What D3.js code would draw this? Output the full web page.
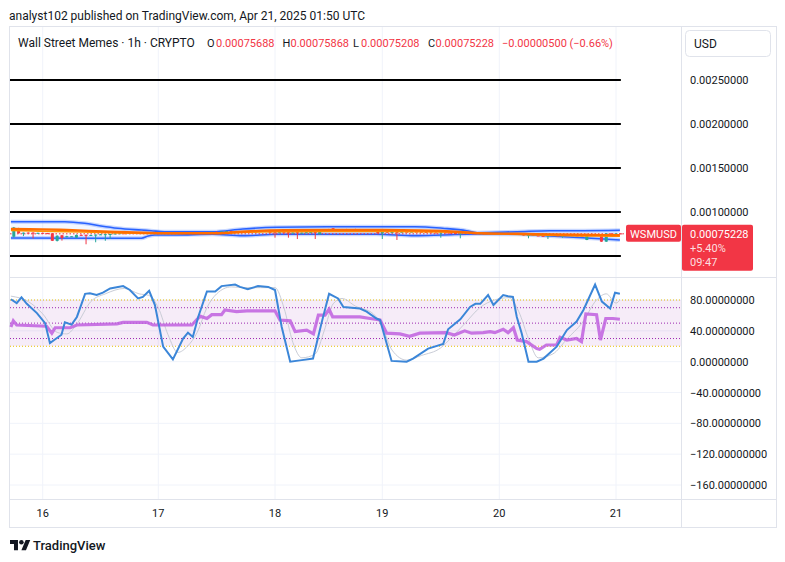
<!DOCTYPE html>
<html><head><meta charset="utf-8">
<script src="https://cdn.jsdelivr.net/npm/d3@7"></script>
<style>body{margin:0;background:#fff;} svg{display:block;font-family:Roboto,"Noto Sans",sans-serif;}</style>
</head><body><svg id="c" width="785" height="562"></svg>
<script>
// ---------------- DATA ----------------
const titleText = "analyst102 published on TradingView.com, Apr 21, 2025 01:50 UTC";
const symbolText = "Wall Street Memes · 1h · CRYPTO";
const ohlcLabels = ["O","H","L","C"];
const ohlcValues = ["0.00075688","0.00075868","0.00075208","0.00075228"];
const changeText = "−0.00000500 (−0.66%)";
const currency = "USD";
const tickerName = "WSMUSD";
const lastPriceLines = ["0.00075228","+5.40%","09:47"];
const lastPrice = 75228; // units of 1e-8

const dayTicks = [0,24,48,72,96,120];          // hours since Apr 16 00:00
const dayLabels = ["16","17","18","19","20","21"];
const priceTicks = [0.0010,0.0015,0.0020,0.0025]; // 0.0005 label hidden behind last-price box
const priceTickLabels = ["0.00100000","0.00150000","0.00200000","0.00250000"];
const levelLines = [0.0005,0.0010,0.0015,0.0020,0.0025];
const oscTicks = [80,40,0,-40,-80,-120,-160];
const oscTickLabels = ["80.00000000","40.00000000","0.00000000","−40.00000000","−80.00000000","−120.00000000","−160.00000000"];
const bandEdges = [20,80];
const bandInner = [30,50,70];

// candles: [hour, open, high, low, close] (prices in 1e-8)
const candles = [
[-6,71900,83000,71000,82400],[-5,81500,82000,75500,75800],[-4,75800,76700,72600,76500],[-3,76600,76800,76000,76200],
[-2,76600,77000,70000,76100],[-1,76100,76500,75800,76300],[0,76300,76600,75900,76000],[1,76000,76200,75400,75600],
[2,75800,76000,67000,67300],[3,67200,73600,66500,73000],[4,73600,74000,67500,70500],[5,71400,73000,71200,72500],
[6,72200,72600,71800,72400],[7,70800,74500,70500,73900],[8,74000,74400,73400,73800],[9,74000,74500,63300,73200],
[10,73500,74200,73000,73900],[11,73500,74500,65600,74300],[12,74300,74900,74000,74600],[13,74000,75000,67300,74800],
[14,74200,75200,69300,75000],[15,75000,75800,74800,75600],[16,75600,76100,75300,75900],[17,75900,76200,75500,75700],
[18,75700,76300,75400,76100],[19,76100,76400,75700,75800],[20,75800,76300,75600,76200],[21,76200,76500,75800,75900],
[22,75900,76400,75700,76300],[23,76300,76600,75900,76000],[24,76000,76300,75600,75700],[25,75700,76200,75500,76100],
[26,76100,76400,75800,75900],[27,75900,76500,75700,76300],[28,76300,76700,76000,76500],[29,76500,76800,76100,76200],
[30,76200,76700,76000,76600],[31,76600,76900,76200,76400],[32,76400,77000,76200,76800],[33,76800,77200,76500,77000],
[34,77000,77400,76700,76900],[35,76900,77600,76700,77400],[36,77400,77800,77100,77300],[37,77300,78000,77100,77800],
[38,77800,78600,77600,78400],[39,78400,78700,77900,78100],[40,78100,78500,77600,77800],[41,77800,78200,77400,77500],
[42,77500,78000,77200,77900],[43,77900,78300,77500,77600],[44,77600,78100,77300,77800],[45,77800,78400,77600,78200],
[46,78200,79600,77800,79300],[47,79400,79600,76000,76400],[48,77500,78000,70800,76500],[49,76500,77200,76200,77000],
[50,77000,77400,76400,76700],[51,77000,77500,70800,76000],[52,76000,76900,75800,76600],[53,77000,77300,69300,76200],
[54,76200,76800,75900,76500],[55,76500,77300,76200,77000],[56,77000,77400,76600,77200],[57,77200,77600,69300,76500],
[58,74700,80000,74500,79500],[59,79500,80600,79200,80300],[60,80300,80800,79900,80100],[61,81500,81800,78600,78800],
[62,78800,80500,78600,80300],[63,80300,80700,80000,80500],[64,80500,80800,80100,80200],[65,80200,80600,79900,80400],
[66,80400,80900,80100,80300],[67,80300,80700,79900,80100],[68,80100,80500,79600,79800],[69,79800,80100,79200,79400],
[70,79400,79700,78800,79000],[71,79000,79300,75600,75800],[72,75800,79700,69300,79500],[73,79000,79300,76300,76500],
[74,76500,77400,76200,77200],[75,77500,78000,68200,76800],[76,76800,77800,76500,77600],[77,77600,77900,77200,77400],
[78,77400,77800,77100,77700],[79,77700,78000,77300,77500],[80,77500,77800,77100,77300],[81,77300,77600,76800,77000],
[82,77000,77300,76500,76700],[83,76700,77000,76200,76400],[84,76000,77000,70800,76800],[85,76800,77100,76300,76500],
[86,76500,76800,76000,76200],[87,76200,76500,75800,76000],[88,76000,76900,70100,76700],[89,76700,76900,76000,76200],
[90,76200,76500,75700,75900],[91,75900,76200,75500,75700],[92,75700,76100,75400,75900],[93,75900,76200,75500,75600],
[94,75600,76000,75300,75800],[95,75800,76100,75400,75500],[96,75500,75900,75200,75700],[97,75700,76000,75300,75400],
[98,75400,75800,75100,75600],[99,75600,75900,75200,75300],[100,75300,75500,74300,74500],[101,74500,74800,73200,73500],
[102,73000,74800,70100,74500],[103,74500,74700,73000,73300],[104,73300,73600,72700,73000],[105,73000,73200,72200,72500],
[106,72500,74000,69300,73800],[107,73800,74100,73300,73500],[108,73500,73800,73000,73200],[109,73000,74000,70800,73800],
[110,73800,74100,73400,73600],[111,73600,73900,73100,73300],[112,73300,73500,72800,73100],[113,73100,73400,72800,73000],
[114,68200,75200,68000,75000],[115,75000,75400,74500,74800],[116,74800,75000,73600,73900],[117,73900,74200,66000,66300],
[118,66300,76000,66000,75700],[119,75700,76100,75300,75600],[120,75600,75900,75300,75688],[121,75688,75868,75208,75228]
];

// Bollinger-type envelope [hour, price 1e-8]
const bbUpper = [[-6.6,89000],[4.6,89000],[8.7,87200],[12.1,84100],[15.6,81500],[20.5,79500],[22.5,78750],[25.3,77600],
[35.2,77600],[41.4,80700],[48.4,82600],[59.6,83300],[78.7,83300],[84.4,81500],[89.3,78750],[91.4,76500],
[99.6,77600],[106.4,78750],[113.2,78750],[120.8,79200]];
const bbLower = [[-6.6,70500],[20.5,70100],[21.9,72700],[23.3,73900],[27.4,73900],[35.2,74700],[41.4,73100],[48.4,74700],
[70.7,74700],[78.7,73100],[84.4,73900],[91.4,75000],[99.6,74700],[106.4,72700],[113.2,70800],[120.8,68200]];
// moving averages
const ma1 = [[-6.6,80700],[0,80300],[5,79500],[14,77600],[21,76500],[28,75800],[36,75800],[42,77900],[50,79200],[60,79500],
[72,79500],[80,79000],[88,77300],[92,75800],[100,75200],[108,74400],[116,73900],[120.8,73600]];
const ma2 = [[-6.6,79000],[5,77600],[14,76500],[24,75600],[36,76100],[48,77600],[60,77800],[72,77800],[84,77300],[92,75800],
[100,74400],[108,73300],[116,72700],[120.8,72400]];

// oscillator series [hour, value]
const stochK = [[-6.6,81],[-5.4,76],[-4.4,83.5],[-3.3,75],[-1.2,63],[0.5,50],[1.5,24],[2.6,29],[3.9,35],[4.6,51],[6.0,48],
[7.1,58],[8.8,88],[9.8,88.6],[11.2,86.5],[12.5,89.5],[14.0,95],[16.7,98],[18.1,93],[19.8,82],[20.8,84],[22.1,92],
[23.3,73.5],[25.0,19.5],[27.0,3],[29.1,30],[30.1,37.6],[31.1,32],[32.2,58],[34.0,91],[35.7,91],[37.0,98],[39.8,100],
[40.8,97],[42.4,94],[44.5,98],[46.6,97],[48.0,93],[49.5,45],[51.4,0],[54.0,2],[56.5,4],[58.4,50],[60.1,88],[62.1,82],
[63.3,71],[67.0,69],[68.5,65],[70.7,56],[71.5,54],[73.9,1],[77.0,0],[78.3,4],[81.4,17],[84.5,23],[85.5,42],[88.0,55],
[90.0,71],[91.1,75],[92.1,75],[93.7,86.5],[94.8,73.5],[96.8,86.5],[97.8,85],[98.8,84],[99.6,58],[100.6,37],[102.0,0],
[103.7,0],[105.1,4],[107.8,19.5],[109.9,41],[111.9,52],[113.3,67],[115.7,100],[117.1,78],[118.8,69],[119.8,89.5],[120.8,88]];
const stochD = [[-6.6,85],[-3,78],[0,62],[3,38],[5,36],[7,48],[10,78],[13,88],[17,95],[20,88],[22,86],[24,70],[26,35],
[28,12],[30,20],[32,38],[34,70],[36,88],[39,97],[42,96],[45,96],[48,96],[50,70],[52,25],[54,5],[57,10],[59,40],[61,75],
[63,82],[66,72],[70,62],[72,45],[74,15],[77,2],[80,8],[84,18],[86,30],[89,50],[92,70],[95,80],[98,83],[100,65],[102,30],
[104,5],[107,10],[110,30],[113,50],[116,80],[118,88],[120,76],[120.8,80]];
const rsi = [[-6.6,45],[-6.1,53],[-5.4,47.6],[0.8,46],[1.9,37],[2.6,44],[5.7,44],[7.1,47.6],[15.4,49],[16.7,51],[21.6,51],
[22.9,47.6],[30.9,47.6],[32.6,59],[34.0,56],[35.0,61],[37.0,61],[37.7,67],[40.1,65],[42.2,66],[48.0,66],[49.1,54],
[51.4,53],[52.5,39],[55.1,41],[56.6,36],[57.7,60.5],[59.2,60.5],[60.1,68],[60.9,58],[67.0,58],[69.3,56],[71.5,54],
[72.9,37],[75.6,36],[77.6,33],[79.7,37],[85.1,37.6],[86.8,34.6],[88.9,40],[90.3,37],[92.7,37.6],[94.1,39],[95.1,37.6],
[96.8,42],[97.8,37.6],[98.9,44],[99.7,28],[101.6,26],[103.7,17],[104.3,16],[105.7,21.6],[107.8,21.6],[108.5,31.6],
[109.9,28],[111.9,30],[112.9,26],[113.8,62],[116.0,61],[116.8,28],[117.9,56],[119.4,56],[120.8,55]];

// ---------------- LAYOUT ----------------
const L = 10, AX = 681, RR = 776, TOP = 27, DIV = 277, OSCB = 499, BOT = 527;
const svg = d3.select("#c");
const red = "#f23645", green = "#26a69a", txt = "#131722", grid = "#f0f3fa", frame = "#e0e3eb";
const P = v => v / 1e8;

const x = d3.scaleLinear().domain(dayTicks).range([42.7,158.3,275,382.3,499.3,616]);
const yP = d3.scaleLinear().domain([0.0005,0.0025]).range([256,80]);
const yO = d3.scaleLinear().domain([-160,80]).range([485,300]);

// title
svg.append("text").attr("x",9).attr("y",19.5).attr("font-size",12).attr("fill",txt).text(titleText);

// frame
svg.append("rect").attr("x",L-0.5).attr("y",TOP-0.5).attr("width",RR-L+1).attr("height",BOT-TOP+1)
  .attr("fill","none").attr("stroke",frame);

// vertical gridlines
svg.append("g").selectAll("line").data(dayTicks).join("line")
  .attr("x1",d=>x(d)).attr("x2",d=>x(d)).attr("y1",TOP).attr("y2",OSCB).attr("stroke",grid);
// osc horizontal gridlines
svg.append("g").selectAll("line").data(oscTicks).join("line")
  .attr("x1",L).attr("x2",AX).attr("y1",d=>yO(d)).attr("y2",d=>yO(d)).attr("stroke",grid);

// separators
svg.append("line").attr("x1",L).attr("x2",RR).attr("y1",DIV+0.5).attr("y2",DIV+0.5).attr("stroke",frame);
svg.append("line").attr("x1",L).attr("x2",RR).attr("y1",OSCB+0.5).attr("y2",OSCB+0.5).attr("stroke",frame);
svg.append("line").attr("x1",AX+0.5).attr("x2",AX+0.5).attr("y1",TOP).attr("y2",BOT).attr("stroke",frame);

// ---- price pane ----
svg.append("clipPath").attr("id","pc").append("rect").attr("x",L).attr("y",TOP).attr("width",AX-L).attr("height",DIV-TOP);
const pp = svg.append("g").attr("clip-path","url(#pc)");

// black level lines
pp.selectAll("line.lv").data(levelLines).join("line").attr("class","lv")
  .attr("x1",L).attr("x2",x(121)).attr("y1",d=>yP(d)).attr("y2",d=>yP(d)).attr("stroke","#000").attr("stroke-width",2);

// envelope fill
const upperF = d3.scaleLinear().domain(bbUpper.map(d=>d[0])).range(bbUpper.map(d=>d[1]));
const lowerF = d3.scaleLinear().domain(bbLower.map(d=>d[0])).range(bbLower.map(d=>d[1]));
const hrs = d3.sort(Array.from(new Set(bbUpper.map(d=>d[0]).concat(bbLower.map(d=>d[0])))));
pp.append("path").datum(hrs).attr("fill","rgba(41,98,255,0.05)")
  .attr("d", d3.area().x(h=>x(h)).y0(h=>yP(P(lowerF(h)))).y1(h=>yP(P(upperF(h)))).curve(d3.curveMonotoneX));

const line = d3.line().x(d=>x(d[0])).y(d=>yP(P(d[1]))).curve(d3.curveMonotoneX);
[bbUpper,bbLower].forEach(s=>{
  pp.append("path").datum(s).attr("fill","none").attr("stroke","#2962ff").attr("stroke-opacity",0.25).attr("stroke-width",4).attr("d",line);
  pp.append("path").datum(s).attr("fill","none").attr("stroke","#2962ff").attr("stroke-width",1.6).attr("d",line);
});

// dotted last price line
pp.append("line").attr("x1",L).attr("x2",AX).attr("y1",yP(P(lastPrice))).attr("y2",yP(P(lastPrice)))
  .attr("stroke",red).attr("stroke-width",1).attr("stroke-dasharray","1.5,2");

// candles
const cg = pp.append("g");
cg.selectAll("line").data(candles).join("line")
  .attr("x1",d=>x(d[0])).attr("x2",d=>x(d[0])).attr("y1",d=>yP(P(d[2]))).attr("y2",d=>yP(P(d[3])))
  .attr("stroke",d=>d[4]>=d[1]?green:red).attr("stroke-width",1);
cg.selectAll("rect").data(candles).join("rect")
  .attr("x",d=>x(d[0])-1.5).attr("width",3)
  .attr("y",d=>yP(P(Math.max(d[1],d[4]))))
  .attr("height",d=>Math.max(1, yP(P(Math.min(d[1],d[4]))) - yP(P(Math.max(d[1],d[4])))))
  .attr("fill",d=>d[4]>=d[1]?green:red);

// moving averages
pp.append("path").datum(ma2).attr("fill","none").attr("stroke","#ff9800").attr("stroke-width",1.6).attr("d",line);
pp.append("path").datum(ma1).attr("fill","none").attr("stroke","#ff6d00").attr("stroke-width",2.4).attr("d",line);

// ---- oscillator pane ----
const og = svg.append("g");
og.append("rect").attr("x",L).attr("width",AX-L).attr("y",yO(bandEdges[1])).attr("height",yO(bandEdges[0])-yO(bandEdges[1]))
  .attr("fill","rgba(156,39,176,0.09)");
og.selectAll("line.be").data(bandEdges).join("line").attr("class","be")
  .attr("x1",L).attr("x2",AX).attr("y1",d=>yO(d)).attr("y2",d=>yO(d)).attr("stroke","#e8c000").attr("stroke-dasharray","1,2");
og.selectAll("line.bi").data(bandInner).join("line").attr("class","bi")
  .attr("x1",L).attr("x2",AX).attr("y1",d=>yO(d)).attr("y2",d=>yO(d)).attr("stroke","#9c27b0").attr("stroke-dasharray","1,2");

og.append("path").datum(stochD).attr("fill","none").attr("stroke","#c9ccd6").attr("stroke-width",1)
  .attr("d",d3.line().x(d=>x(d[0])).y(d=>yO(d[1])).curve(d3.curveMonotoneX));
og.append("path").datum(rsi).attr("fill","none").attr("stroke","#c060df").attr("stroke-opacity",0.85).attr("stroke-width",3.2)
  .attr("d",d3.line().x(d=>x(d[0])).y(d=>yO(d[1])));
og.append("path").datum(stochK).attr("fill","none").attr("stroke","#3b86d8").attr("stroke-width",2)
  .attr("d",d3.line().x(d=>x(d[0])).y(d=>yO(d[1])));

// ---- axes ----
const axg = svg.append("g").attr("font-size",11).attr("fill",txt);
axg.selectAll("text.pt").data(priceTicks).join("text").attr("class","pt")
  .attr("x",690).attr("y",d=>yP(d)+4).text((d,i)=>priceTickLabels[i]);
axg.selectAll("text.ot").data(oscTicks).join("text").attr("class","ot")
  .attr("x",690).attr("y",d=>yO(d)+4).text((d,i)=>oscTickLabels[i]);
axg.selectAll("text.dt").data(dayTicks).join("text").attr("class","dt")
  .attr("x",d=>x(d)).attr("y",517).attr("text-anchor","middle").text((d,i)=>dayLabels[i]);

// last price labels
const ly = yP(P(lastPrice));
svg.append("rect").attr("x",626).attr("y",ly-9).attr("width",55).attr("height",17).attr("rx",2).attr("fill",red);
svg.append("text").attr("x",653.5).attr("y",ly+4).attr("text-anchor","middle").attr("font-size",11).attr("fill","#fff").text(tickerName);
svg.append("rect").attr("x",682).attr("y",ly-9).attr("width",71).attr("height",46).attr("rx",2).attr("fill",red);
svg.selectAll("text.lp").data(lastPriceLines).join("text").attr("class","lp")
  .attr("x",690).attr("y",(d,i)=>ly+4+i*14.3).attr("font-size",11).attr("fill",(d,i)=>i==0?"#fff":"rgba(255,255,255,0.85)").text(d=>d);

// currency box
svg.append("rect").attr("x",685.5).attr("y",30.5).attr("width",85).attr("height",26).attr("rx",4).attr("fill","#fff").attr("stroke",frame);
svg.append("text").attr("x",694).attr("y",47.5).attr("font-size",12).attr("fill",txt).text(currency);

// header legend
const hg = svg.append("g").attr("font-size",11);
hg.append("text").attr("x",18).attr("y",47).attr("font-size",12).attr("fill",txt).text(symbolText);
const lx = [207,282.5,353,428], vx = [216,290.5,361,435.5];
ohlcLabels.forEach((k,i)=>{
  hg.append("text").attr("x",lx[i]).attr("y",47).attr("fill",txt).text(k);
  hg.append("text").attr("x",vx[i]).attr("y",47).attr("fill",red).text(ohlcValues[i]);
});
hg.append("text").attr("x",502).attr("y",47).attr("fill",red).text(changeText);

// logo
const lg = svg.append("g").attr("transform","translate(10,537.7) scale(0.57)").attr("fill",txt);
lg.append("path").attr("d","M14 22H7V11H0V4h14v18zM28 22h-8l7.5-18h8L28 22z");
lg.append("circle").attr("cx",20).attr("cy",8).attr("r",4);
svg.append("text").attr("x",33).attr("y",549.5).attr("font-size",13).attr("font-weight",500).attr("fill",txt).text("TradingView");
</script></body></html>
